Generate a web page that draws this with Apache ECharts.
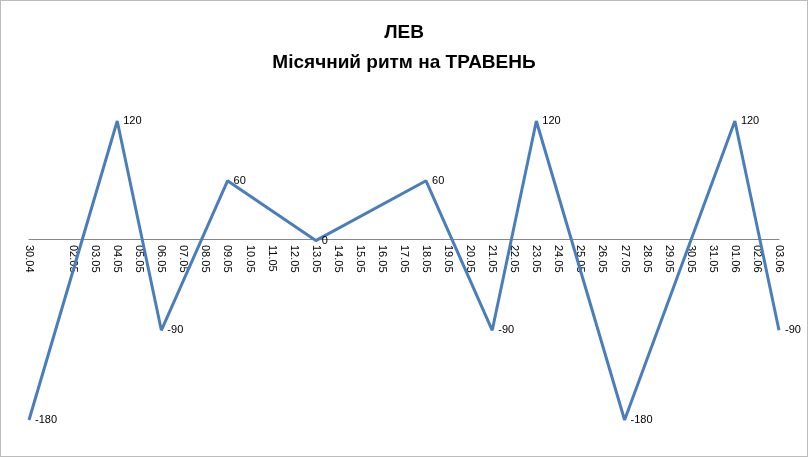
<!DOCTYPE html>
<html><head><meta charset="utf-8">
<script src="https://cdn.jsdelivr.net/npm/echarts@6/dist/echarts.min.js"></script>
<style>html,body{margin:0;padding:0;background:#fff}#c{width:806px;height:455px;border:1px solid #bcbcbc}</style>
</head><body><div id="c"></div>
<script>
const categories = ['30.04','01.05','02.05','03.05','04.05','05.05','06.05','07.05','08.05','09.05','10.05','11.05','12.05','13.05','14.05','15.05','16.05','17.05','18.05','19.05','20.05','21.05','22.05','23.05','24.05','25.05','26.05','27.05','28.05','29.05','30.05','31.05','01.06','02.06','03.06'];
const hiddenLabels = ['01.05'];
const points = {'30.04':-180,'04.05':120,'06.05':-90,'09.05':60,'13.05':0,'18.05':60,'21.05':-90,'23.05':120,'27.05':-180,'01.06':120,'03.06':-90};
const values = categories.map(c => c in points ? points[c] : null);

const chart = echarts.init(document.getElementById('c'));
chart.setOption({
  animation: false,
  title: {
    text: 'ЛЕВ\nМісячний ритм на ТРАВЕНЬ',
    left: 'center', top: 12,
    textStyle: {fontFamily: 'Liberation Sans', fontSize: 19, fontWeight: 'bold', color: '#000', lineHeight: 30}
  },
  grid: {left: 28, right: 28, top: 120, bottom: 36},
  xAxis: {
    type: 'category', data: categories, boundaryGap: false,
    offset: -181,
    axisLine: {onZero: false, lineStyle: {color: '#868686'}},
    axisTick: {show: false},
    axisLabel: {rotate: -90, interval: 0, margin: 6, color: '#000', fontSize: 11, fontFamily: 'Liberation Sans',
      formatter: v => hiddenLabels.includes(v) ? '' : v}
  },
  yAxis: {type: 'value', min: -180, max: 120, show: false, splitLine: {show: false}},
  series: [{
    type: 'line', data: values, connectNulls: true, showSymbol: true, symbol: 'circle', symbolSize: 0,
    lineStyle: {color: '#4a7ebb', width: 3},
    label: {show: true, position: 'right', color: '#000', fontSize: 11, fontFamily: 'Liberation Sans', distance: 6}
  }]
});
</script></body></html>
